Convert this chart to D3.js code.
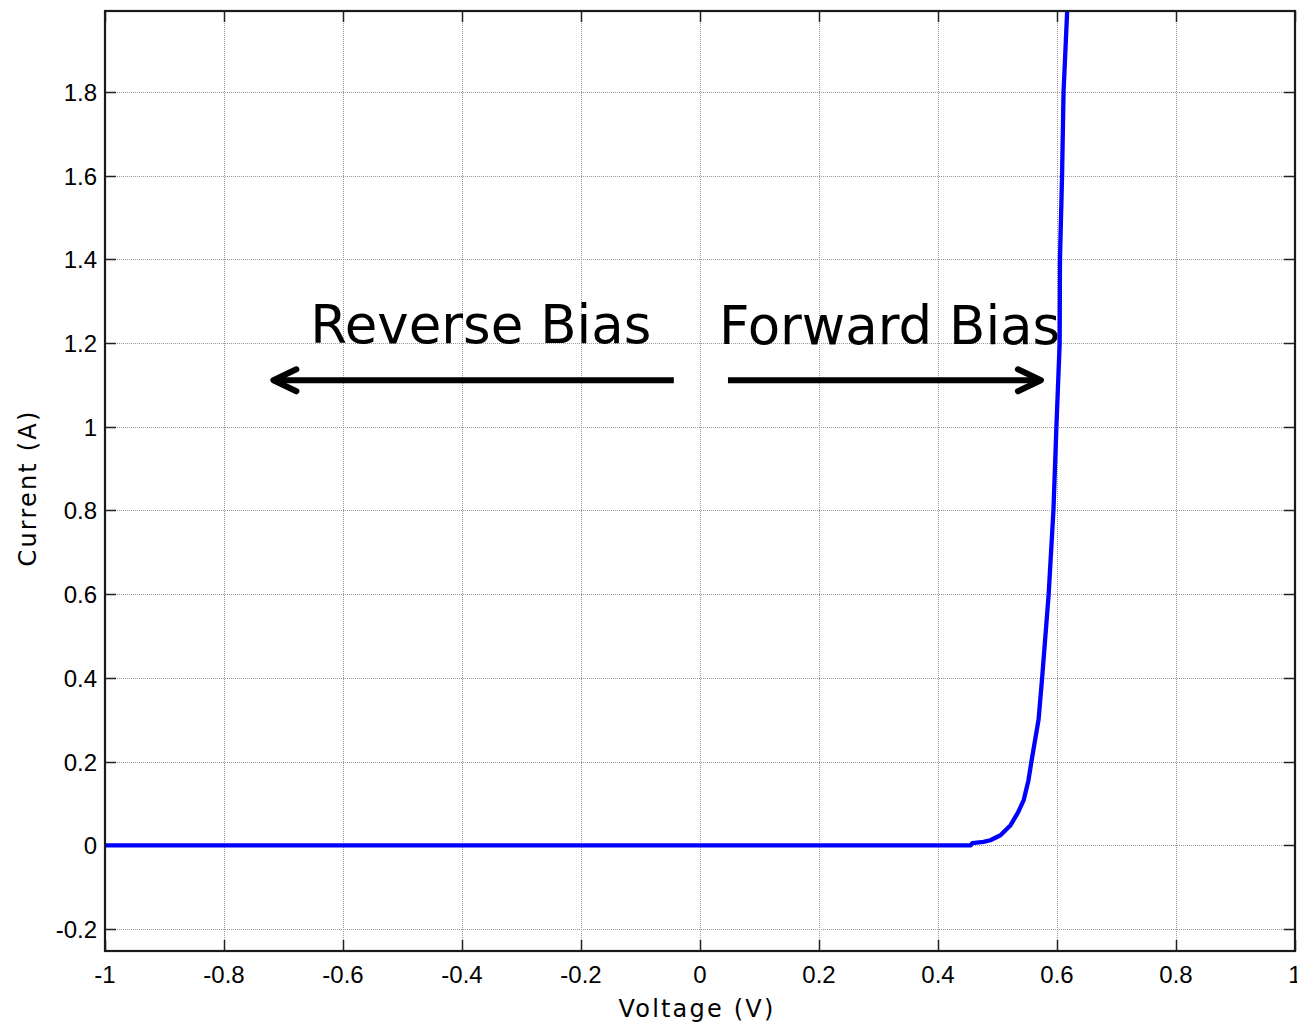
<!DOCTYPE html>
<html>
<head>
<meta charset="utf-8">
<script src="https://cdn.jsdelivr.net/npm/d3@7"></script>
<style>
  body { margin: 0; background: #fff; }
  .tick_lbl { font-family: "Liberation Sans", Arial, sans-serif; font-size: 24px; fill: #000; }
  .axis_lbl { font-family: "DejaVu Sans", Verdana, sans-serif; font-size: 24px; letter-spacing: 2.2px; fill: #000; }
  .note_lbl { font-family: "DejaVu Sans", Verdana, sans-serif; font-size: 53px; fill: #000; }
</style>
</head>
<body>
<svg id="iv" width="1297" height="1027"></svg>
<script>

// diode I-V curve
var voltage = [-1.0, 0.0, 0.455, 0.4575, 0.4765, 0.488, 0.505, 0.522, 0.535, 0.544, 0.552, 0.557,
               0.569, 0.575, 0.586, 0.594, 0.599, 0.6045, 0.605, 0.6085, 0.611, 0.617, 0.620];
var current = [0.0, 0.0, 0.0, 0.005, 0.008, 0.012, 0.024, 0.048, 0.08, 0.108, 0.155, 0.2,
               0.3, 0.4, 0.6, 0.8, 1.0, 1.2, 1.4, 1.6, 1.8, 1.99, 2.1];

var xTicks = [-1, -0.8, -0.6, -0.4, -0.2, 0, 0.2, 0.4, 0.6, 0.8, 1];
var yTicks = [-0.2, 0, 0.2, 0.4, 0.6, 0.8, 1, 1.2, 1.4, 1.6, 1.8];
var xTickLabels = ["-1", "-0.8", "-0.6", "-0.4", "-0.2", "0", "0.2", "0.4", "0.6", "0.8", "1"];
var yTickLabels = ["-0.2", "0", "0.2", "0.4", "0.6", "0.8", "1", "1.2", "1.4", "1.6", "1.8"];
var xExt = [-1, 1];
var yExt = [-0.2526, 1.9935];

// annotations, in data units
var noteText = ["Reverse Bias", "Forward Bias"];
var noteX    = [-0.655, 0.032];
var noteY    = [1.200, 1.197];
var arrowFrom = [[-0.044, 1.111], [0.047, 1.111]];
var arrowTo   = [[-0.717, 1.111], [0.573, 1.111]];

function draw_iv( chart_name ){
	var svg = d3.select(chart_name);
	var W = +svg.attr("width"), H = +svg.attr("height");
	var m = {left: 105, right: 2, top: 11, bottom: 76};
	var w = W - m.left - m.right,
		h = H - m.top - m.bottom;

	var x = d3.scaleLinear().domain(xExt).range([0, w]);
	var y = d3.scaleLinear().domain(yExt).range([h, 0]);

	var g = svg.append("g").attr("transform", "translate(" + m.left + "," + m.top + ")");

	g.append("clipPath").attr("id", "plotclip")
		.append("rect").attr("width", w).attr("height", h);

	// dotted grid
	g.selectAll(".gx").data(xTicks).enter().append("line")
		.attr("x1", d => Math.round(x(d)) + 0.5).attr("x2", d => Math.round(x(d)) + 0.5)
		.attr("y1", 0).attr("y2", h)
		.attr("stroke", "#9a9a9a").attr("stroke-dasharray", "1,1");
	g.selectAll(".gy").data(yTicks).enter().append("line")
		.attr("y1", d => Math.round(y(d)) + 0.5).attr("y2", d => Math.round(y(d)) + 0.5)
		.attr("x1", 0).attr("x2", w)
		.attr("stroke", "#9a9a9a").attr("stroke-dasharray", "1,1");

	// inner ticks on all four sides
	var tl = 11;
	xTicks.forEach(function(d){
		var px = Math.round(x(d)) + 0.5;
		g.append("line").attr("x1", px).attr("x2", px).attr("y1", h).attr("y2", h - tl).attr("stroke", "#222").attr("stroke-width", 1.5);
		g.append("line").attr("x1", px).attr("x2", px).attr("y1", 0).attr("y2", tl).attr("stroke", "#222").attr("stroke-width", 1.5);
	});
	yTicks.forEach(function(d){
		var py = Math.round(y(d)) + 0.5;
		g.append("line").attr("y1", py).attr("y2", py).attr("x1", 0).attr("x2", tl).attr("stroke", "#222").attr("stroke-width", 1.5);
		g.append("line").attr("y1", py).attr("y2", py).attr("x1", w).attr("x2", w - tl).attr("stroke", "#222").attr("stroke-width", 1.5);
	});

	// curve
	var pts = voltage.map((v, i) => [v, current[i]]);
	g.append("path")
		.datum(pts)
		.attr("clip-path", "url(#plotclip)")
		.attr("fill", "none")
		.attr("stroke", "#0000ff")
		.attr("stroke-width", 4.3)
		.attr("stroke-linejoin", "round")
		.attr("d", d3.line().x(d => x(d[0])).y(d => y(d[1])));

	// box
	g.append("rect").attr("width", w).attr("height", h)
		.attr("fill", "none").attr("stroke", "#1a1a1a").attr("stroke-width", 2.2);

	// tick labels
	g.selectAll(".xl").data(xTicks).enter().append("text")
		.attr("class", "tick_lbl")
		.attr("x", d => x(d)).attr("y", h + 32)
		.attr("text-anchor", "middle")
		.text((d, i) => xTickLabels[i]);
	g.selectAll(".yl").data(yTicks).enter().append("text")
		.attr("class", "tick_lbl")
		.attr("x", -8).attr("y", d => y(d) + 9)
		.attr("text-anchor", "end")
		.text((d, i) => yTickLabels[i]);

	// axis labels
	svg.append("text").attr("class", "axis_lbl")
		.attr("x", m.left + x(0) - 3).attr("y", 1017)
		.attr("text-anchor", "middle")
		.text("Voltage (V)");
	svg.append("text").attr("class", "axis_lbl")
		.attr("transform", "translate(36," + 488 + ") rotate(-90)")
		.attr("text-anchor", "middle")
		.text("Current (A)");

	// annotations
	noteText.forEach(function(t, i){
		g.append("text").attr("class", "note_lbl")
			.attr("x", x(noteX[i])).attr("y", y(noteY[i]))
			.text(t);
	});
	arrowFrom.forEach(function(a, i){
		var b = arrowTo[i];
		var x0 = x(a[0]), y0 = y(a[1]), x1 = x(b[0]), y1 = y(b[1]);
		var dir = x1 > x0 ? -1 : 1;
		g.append("line")
			.attr("x1", x0).attr("y1", y0).attr("x2", x1 + dir * 2).attr("y2", y1)
			.attr("stroke", "#000").attr("stroke-width", 6);
		g.append("polyline")
			.attr("points", [[x1 + dir * 23, y1 - 11], [x1, y1], [x1 + dir * 23, y1 + 11]].map(p => p.join(",")).join(" "))
			.attr("fill", "none").attr("stroke", "#000").attr("stroke-width", 6)
			.attr("stroke-linecap", "round").attr("stroke-linejoin", "round");
	});
}

draw_iv("#iv");
</script>
</body>
</html>
